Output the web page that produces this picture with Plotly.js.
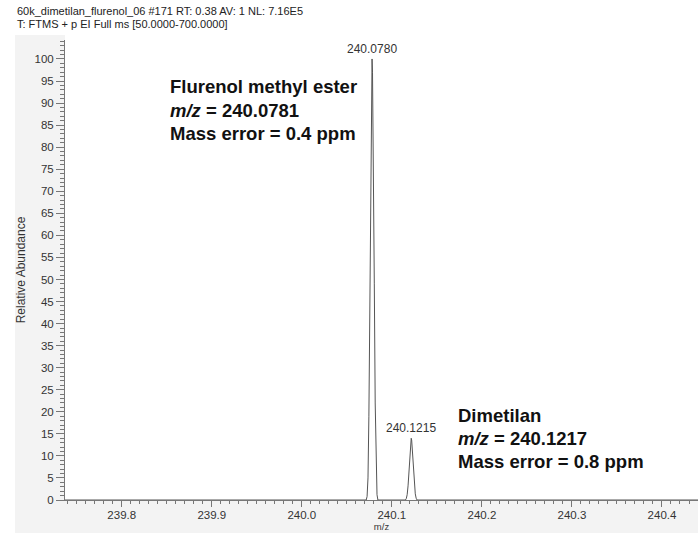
<!DOCTYPE html>
<html>
<head>
<meta charset="utf-8">
<script src="https://cdn.plot.ly/plotly-3.0.1.min.js"></script>
<style>html,body{margin:0;padding:0;background:#fff;}#chart{width:698px;height:533px;}</style>
</head>
<body>
<div id="chart"></div>
<script>
// Profile spectrum (m/z, relative abundance)
const mz = [239.737,
  240.0715, 240.0725, 240.0735, 240.0745, 240.0755, 240.0765, 240.0775, 240.0780,
  240.0785, 240.0795, 240.0805, 240.0815, 240.0825, 240.0835, 240.0845,
  240.1150, 240.1160, 240.1170, 240.1180, 240.1190, 240.1200, 240.1210, 240.1215,
  240.1220, 240.1230, 240.1240, 240.1250, 240.1260, 240.1270, 240.1280,
  240.440];
const abundance = [0,
  0, 0.8, 5, 19, 45, 75, 96, 100,
  97, 79, 49, 22, 7, 1.2, 0,
  0, 0.3, 1.2, 3.2, 6.5, 10.2, 13.4, 14,
  13.6, 10.8, 7, 3.6, 1.4, 0.4, 0,
  0];
const peakLabels = ["240.0780", "240.1215"];
const peakMz = [240.0780, 240.1215];
const peakInt = [100, 14];
const headerLines = ["60k_dimetilan_flurenol_06 #171 RT: 0.38 AV: 1 NL: 7.16E5",
                     "T: FTMS + p EI Full ms [50.0000-700.0000]"];
const compound1 = ["Flurenol methyl ester", "<i>m/z</i> = 240.0781", "Mass error = 0.4 ppm"];
const compound2 = ["Dimetilan", "<i>m/z</i> = 240.1217", "Mass error = 0.8 ppm"];
const xTicks = [239.8, 239.9, 240.0, 240.1, 240.2, 240.3, 240.4];

const W = 698, H = 533, L = 65, R = 0, T = 40, B = 33;
const pw = W - L - R, ph = H - T - B;
const px = (p) => (p - L) / pw;          // pixel x -> paper x
const py = (p) => (H - B - p) / ph;      // pixel y -> paper y

const baseFont = "Liberation Sans, Arial, sans-serif";
const bigFont = "Liberation Sans, Arial, sans-serif";
const annots = [];
annots.push({xref:'paper', yref:'paper', x:px(15), y:py(11), xanchor:'left', yanchor:'middle',
  text: headerLines[0], showarrow:false, font:{family:baseFont, size:11, color:'#222'}});
annots.push({xref:'paper', yref:'paper', x:px(15), y:py(24), xanchor:'left', yanchor:'middle',
  text: headerLines[1], showarrow:false, font:{family:baseFont, size:11, color:'#222'}});
for (let i = 0; i < peakLabels.length; i++) {
  annots.push({x: peakMz[i], y: peakInt[i], xref:'x', yref:'y', text: peakLabels[i], showarrow:false,
    yanchor:'bottom', yshift:1, font:{family:baseFont, size:12, color:'#333'}});
}
const lineGap = 23;
compound1.forEach((t, i) => annots.push({xref:'paper', yref:'paper', x:px(168), y:py(87 + i*lineGap),
  xanchor:'left', yanchor:'middle', text:t, showarrow:false,
  font:{family:bigFont, size:18.5, color:'#111', weight:'bold'}}));
compound2.forEach((t, i) => annots.push({xref:'paper', yref:'paper', x:px(456), y:py(415 + i*lineGap),
  xanchor:'left', yanchor:'middle', text:t, showarrow:false,
  font:{family:bigFont, size:18.5, color:'#111', weight:'bold'}}));

const gray = '#f3f3f3';
const shapes = [
  {type:'rect', xref:'paper', yref:'paper', x0:px(15), x1:0, y0:py(H+5), y1:py(35), fillcolor:gray, line:{width:0}, layer:'below'},
  {type:'rect', xref:'paper', yref:'paper', x0:px(15), x1:1.05, y0:py(H+5), y1:0, fillcolor:gray, line:{width:0}, layer:'below'}
];

const trace = {x: mz, y: abundance, type:'scatter', mode:'lines',
  line:{color:'#555', width:1}, hoverinfo:'x+y'};

const layout = {
  width: W, height: H,
  margin:{l:L, r:R, t:T, b:B, pad:0},
  paper_bgcolor:'#fff', plot_bgcolor:'#fff',
  showlegend:false,
  xaxis:{range:[239.737, 240.44], tickvals:xTicks, tickformat:'.1f',
    showline:true, linecolor:'#777', linewidth:1, ticks:'outside', ticklen:6, tickcolor:'#777',
    ticklabelstandoff:-2,
    minor:{dtick:0.01, tick0:239.8, ticks:'outside', ticklen:3, tickcolor:'#777'},
    showgrid:false, zeroline:false,
    tickfont:{family:baseFont, size:11.5, color:'#333'},
    title:{text:'m/z', font:{family:baseFont, size:9.5, color:'#333'}, standoff:2}},
  yaxis:{range:[0, 104.3], dtick:5, tick0:0,
    showline:true, linecolor:'#777', linewidth:1, ticks:'outside', ticklen:8, tickcolor:'#777',
    minor:{dtick:1, ticks:'outside', ticklen:4, tickcolor:'#777'},
    showgrid:false, zeroline:false,
    tickfont:{family:baseFont, size:11.5, color:'#333'},
    title:{text:'Relative Abundance', font:{family:baseFont, size:12, color:'#333'}, standoff:6}},
  annotations: annots,
  shapes: shapes
};

Plotly.newPlot('chart', [trace], layout, {displayModeBar:false, staticPlot:true});
</script>
</body>
</html>
